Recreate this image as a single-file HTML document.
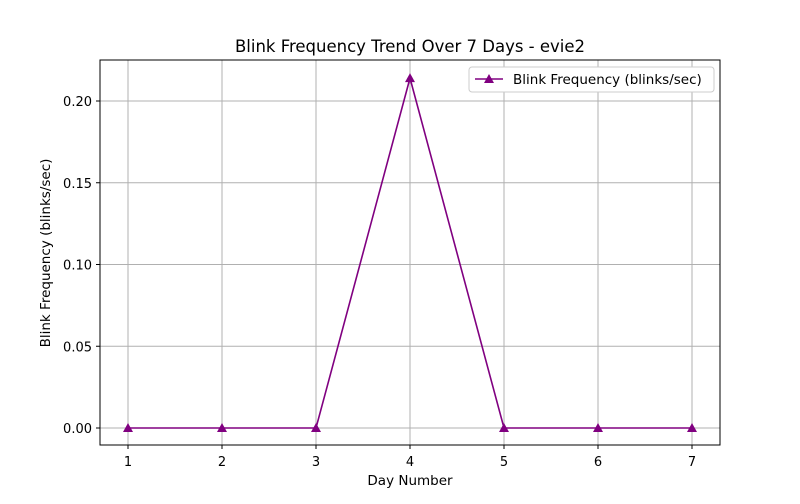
<!DOCTYPE html>
<html><head><meta charset="utf-8"><style>
body{margin:0;background:#fff;font-family:"DejaVu Sans","Liberation Sans",sans-serif;}
svg text{font-family:"DejaVu Sans","Liberation Sans",sans-serif;}
</style></head><body>
<svg id="chart" width="800" height="500" xmlns="http://www.w3.org/2000/svg">
<rect width="800" height="500" fill="#fff"/>
<g id="grid"></g><g id="ticks"></g><g id="series"></g>
<rect x="100" y="60" width="620" height="385" fill="none" stroke="#000" stroke-width="1"/>
<text x="410" y="52" text-anchor="middle" font-size="16.5">Blink Frequency Trend Over 7 Days - evie2</text>
<text x="410" y="485" text-anchor="middle" font-size="13.5">Day Number</text>
<text transform="translate(50,253) rotate(-90)" text-anchor="middle" font-size="13.5">Blink Frequency (blinks/sec)</text>
<g>
<rect x="469" y="67" width="245" height="25" rx="3" fill="#fff" stroke="#ccc"/>
<line x1="475" y1="79" x2="503" y2="79" stroke="#800080" stroke-width="1.6"/>
<polygon points="489,74 494,83 484,83" fill="#800080"/>
<text x="513" y="84" font-size="13.5">Blink Frequency (blinks/sec)</text>
</g>
</svg>
<script>
const days=[1,2,3,4,5,6,7];
const values=[0,0,0,0.214,0,0,0];
const yTicks=[0,0.05,0.10,0.15,0.20];
const yTickLabels=["0.00","0.05","0.10","0.15","0.20"];
const NS="http://www.w3.org/2000/svg";
const xs=d=>128+(d-1)*94;
const ys=v=>428-v*1635;
const grid=document.getElementById('grid'),ticks=document.getElementById('ticks'),series=document.getElementById('series');
function mk(tag,attrs,parent){const e=document.createElementNS(NS,tag);for(const k in attrs)e.setAttribute(k,attrs[k]);parent.appendChild(e);return e;}
days.forEach(d=>{
 const g=mk('line',{x1:xs(d),x2:xs(d),y1:60,y2:445,stroke:'#b0b0b0','stroke-width':1},grid);
 
 
 mk('line',{x1:xs(d),x2:xs(d),y1:445,y2:449,stroke:'#000'},ticks);
 const t=mk('text',{x:xs(d),y:466,'text-anchor':'middle','font-size':13},ticks);t.textContent=d;
 
 
});
yTicks.forEach((v,i)=>{
 const g=mk('line',{x1:100,x2:720,y1:ys(v),y2:ys(v),stroke:'#b0b0b0','stroke-width':1},grid);
 
 
 mk('line',{x1:96,x2:100,y1:ys(v),y2:ys(v),stroke:'#000'},ticks);
 const t=mk('text',{x:92,y:ys(v)+5,'text-anchor':'end','font-size':13},ticks);t.textContent=yTickLabels[i];
 
 
});
const pl=mk('polyline',{points:days.map((d,i)=>xs(d)+','+ys(values[i])).join(' '),fill:'none',stroke:'#800080','stroke-width':1.6},series);


days.forEach((d,i)=>{
 const x=xs(d),y=ys(values[i]);
 const p=mk('polygon',{points:`${x},${y-5} ${x+5},${y+4} ${x-5},${y+4}`,fill:'#800080'},series);
 
 
});
</script>
</body></html>
